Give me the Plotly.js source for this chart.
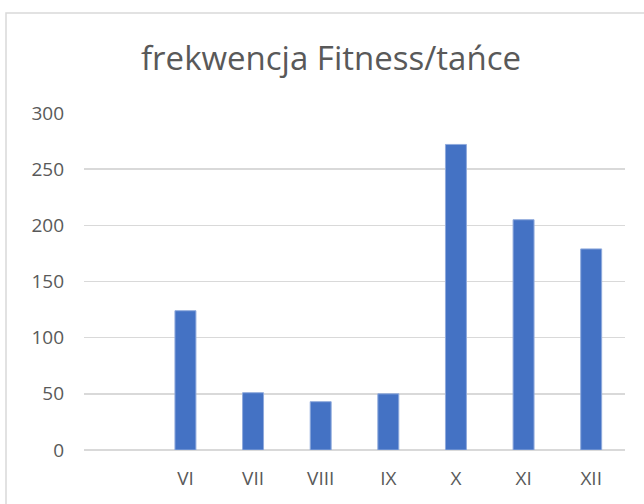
<!DOCTYPE html>
<html>
<head>
<meta charset="utf-8">
<script src="https://cdn.plot.ly/plotly-3.0.1.min.js"></script>
<style>html,body{margin:0;padding:0;background:#fff;}#chart{width:644px;height:504px;}</style>
</head>
<body>
<div id="chart"></div>
<script>
const categories = [" ", "VI", "VII", "VIII", "IX", "X", "XI", "XII"];
const values = [null, 124, 51, 43, 50, 272, 205, 179];
const yTicks = [0, 50, 100, 150, 200, 250, 300];
const chartTitle = "frekwencja Fitness/tańce";

const textColor = "#595959";
const fontFam = "'Open Sans', 'Noto Sans', sans-serif";

const trace = {
  type: "bar",
  x: categories,
  y: values,
  marker: { color: "#4472C4", line: { color: "#8FAADC", width: 1 } },
  hoverinfo: "x+y"
};

const layout = {
  width: 644, height: 504,
  margin: { l: 84, r: 19, t: 113, b: 54 },
  paper_bgcolor: "#ffffff", plot_bgcolor: "#ffffff",
  showlegend: false,
  bargap: 0.69,
  title: {
    text: chartTitle,
    font: { family: fontFam, size: 33, color: textColor },
    x: 331 / 644, xref: "container", xanchor: "center",
    y: 1 - 58 / 504, yref: "container", yanchor: "middle"
  },
  xaxis: {
    type: "category",
    showgrid: false, zeroline: false, showline: false,
    ticks: "", ticklabelstandoff: 15,
    tickfont: { family: fontFam, size: 19, color: textColor },
    fixedrange: true
  },
  yaxis: {
    range: [0, 300],
    tickvals: yTicks,
    ticktext: yTicks.map(String),
    showgrid: true, gridcolor: "#D9D9D9", gridwidth: 1.5,
    zeroline: true, zerolinecolor: "#D9D9D9", zerolinewidth: 1.5,
    showline: false, ticks: "", ticklabelstandoff: 19,
    tickfont: { family: fontFam, size: 19, color: textColor },
    fixedrange: true
  },
  shapes: [{
    type: "rect", xref: "paper", yref: "paper",
    x0: (6 - 84) / 541, x1: 1.5,
    y0: -0.5, y1: (450 - 13) / 337,
    line: { color: "#D9D9D9", width: 1.5 },
    fillcolor: "rgba(0,0,0,0)", layer: "below"
  }]
};

Plotly.newPlot("chart", [trace], layout, { displayModeBar: false, staticPlot: true });
</script>
</body>
</html>
